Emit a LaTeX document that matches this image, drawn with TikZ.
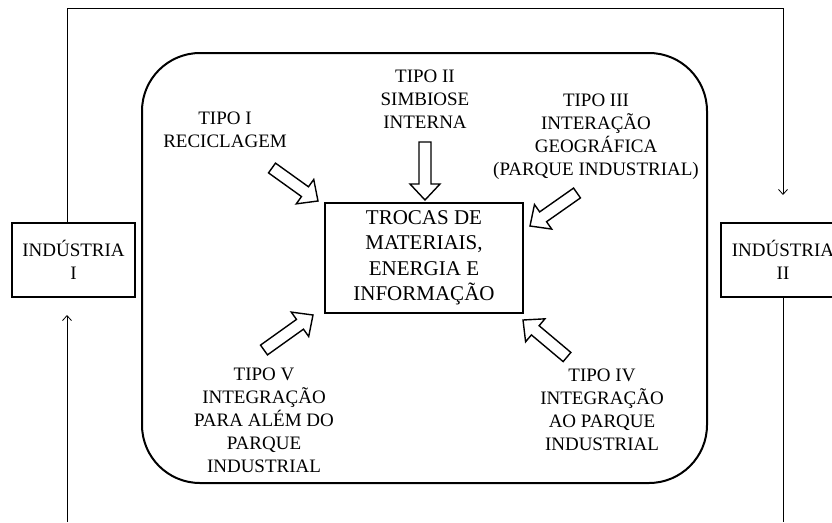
\documentclass[tikz,border=0pt]{standalone}
\usepackage{fontspec}
\setmainfont{Liberation Serif}
\usetikzlibrary{calc,arrows.meta}
\begin{document}
\begin{tikzpicture}[x=1pt,y=-1pt,
 box/.style={draw, line width=1.6pt, align=center, inner sep=0pt},
 lbl/.style={align=center, font=\fontsize{19}{23}\selectfont, inner sep=0pt},
 flow/.style={draw, line width=0.8pt, -{Straight Barb[length=5pt,width=9pt]}},
 plain/.style={draw, line width=0.8pt},
 blockarrow/.style={draw, fill=white, line width=1.4pt, line join=miter,
  to path={let \p1=(\tikztostart), \p2=(\tikztotarget),
   \n1={atan2(\y2-\y1,\x2-\x1)}, \n2={veclen(\x2-\x1,\y2-\y1)} in
   [shift={(\p1)}, rotate=\n1] (0,-6) -- ({\n2-16},-6) -- ({\n2-16},-15) -- ({\n2},0)
   -- ({\n2-16},15) -- ({\n2-16},6) -- (0,6) -- cycle}},
]
\useasboundingbox (0,0) rectangle (832,522);
\clip (0,0) rectangle (832,522);

% frame
\node[draw, line width=2pt, rounded corners=58pt, minimum width=565pt, minimum height=430pt, inner sep=0pt] (frame) at (424.5,268) {};

% industries
\node[box, minimum width=123pt, minimum height=74pt, font=\fontsize{19}{23}\selectfont] (ind1) at (73.5,260) {INDÚSTRIA\\I};
\node[box, minimum width=124pt, minimum height=74pt, font=\fontsize{19}{23}\selectfont] (ind2) at (783,260) {INDÚSTRIA\\II};

% center
\node[box, minimum width=198pt, minimum height=110pt, font=\fontsize{21}{25.5}\selectfont] (center) at (424,258) {TROCAS DE\\MATERIAIS,\\ENERGIA E\\INFORMAÇÃO};

% labels
\node[lbl] (t1) at (225,130) {TIPO I\\RECICLAGEM};
\node[lbl] (t2) at (425,99) {TIPO II\\SIMBIOSE\\INTERNA};
\node[lbl] (t3) at (596,137) {TIPO III\\INTERAÇÃO\\GEOGRÁFICA\\(PARQUE INDUSTRIAL)};
\node[lbl] (t4) at (602,410) {TIPO IV\\INTEGRAÇÃO\\AO PARQUE\\INDUSTRIAL};
\node[lbl] (t5) at (264,420) {TIPO V\\INTEGRAÇÃO\\PARA ALÉM DO\\PARQUE\\INDUSTRIAL};

% block arrow ends
\coordinate (a1s) at (272,168); \coordinate (a1e) at (318,201);
\coordinate (a2s) at (425,142); \coordinate (a2e) at (425,200);
\coordinate (a3s) at (577,193); \coordinate (a3e) at (530,226);
\coordinate (a4s) at (567,357); \coordinate (a4e) at (523,320);
\coordinate (a5s) at (264,350); \coordinate (a5e) at (313,315);
\draw[blockarrow] (a1s) to (a1e);
\draw[blockarrow] (a2s) to (a2e);
\draw[blockarrow] (a3s) to (a3e);
\draw[blockarrow] (a4s) to (a4e);
\draw[blockarrow] (a5s) to (a5e);

% outer flow
\coordinate (topL) at (67,8);
\coordinate (topR) at (783,8);
\coordinate (ind2in) at (783,195);
\coordinate (botL) at (67,522);
\coordinate (ind1in) at (67,315);
\coordinate (botR) at (783,522);
\draw[flow] (topL |- ind1.north) -- (topL) -- (topR) -- (ind2in);
\draw[flow] (botL) -- (ind1in);
\draw[plain] (ind2.south) -- (botR);
\end{tikzpicture}
\end{document}
